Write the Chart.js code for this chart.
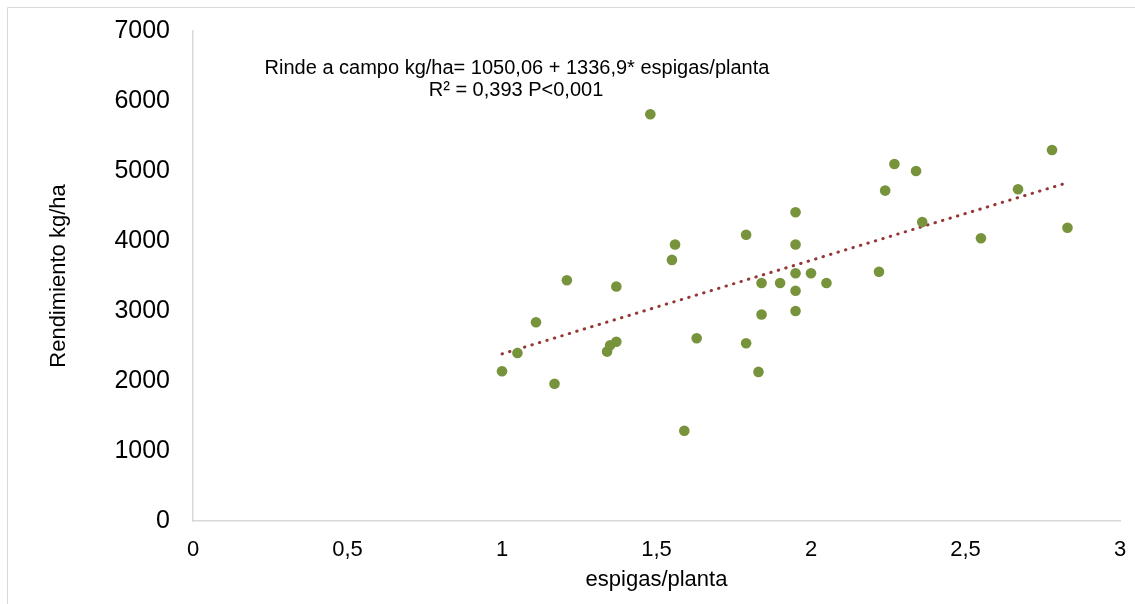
<!DOCTYPE html>
<html>
<head>
<meta charset="utf-8">
<script src="https://cdn.jsdelivr.net/npm/chart.js@4/dist/chart.umd.min.js"></script>
<style>
  html, body { margin: 0; padding: 0; background: #fff; }
  #wrap { width: 1135px; height: 604px; position: relative; }
</style>
</head>
<body>
<div id="wrap"><canvas id="chart" width="1135" height="604"></canvas></div>
<script>
// --- data ---
const espigas = [1.00, 1.05, 1.11, 1.17, 1.21, 1.34, 1.35, 1.37, 1.37, 1.48,
                 1.55, 1.56, 1.59, 1.63, 1.79, 1.79, 1.83, 1.84, 1.84, 1.90,
                 1.95, 1.95, 1.95, 1.95, 1.95, 2.00, 2.05, 2.22, 2.24, 2.27,
                 2.34, 2.36, 2.55, 2.67, 2.78, 2.83];
const rendimiento = [2140, 2400, 2840, 1960, 3440, 2420, 2510, 2560, 3350, 5810,
                     3730, 3950, 1290, 2610, 4090, 2540, 2130, 3400, 2950, 3400,
                     4410, 3950, 3540, 3290, 3000, 3540, 3400, 3560, 4720, 5100,
                     5000, 4270, 4040, 4740, 5300, 4190];
// regression from the annotation
const intercept = 1050.06;
const slope = 1336.9;
const xTicks = [0, 0.5, 1, 1.5, 2, 2.5, 3];
const yTicks = [0, 1000, 2000, 3000, 4000, 5000, 6000, 7000];
const annotation = [
    'Rinde a campo kg/ha= 1050,06 + 1336,9* espigas/planta',
    'R² = 0,393 P<0,001'
];

const points = espigas.map((x, i) => ({ x: x, y: rendimiento[i] }));
const xMin = Math.min(...espigas);
const xMax = Math.max(...espigas);
const trend = [xMin, xMax].map(x => ({ x: x, y: intercept + slope * x }));

const FONT = "'Liberation Sans', Arial, sans-serif";

// light frame on the left and top, plus the equation text
const framePlugin = {
    id: 'frame',
    beforeDraw(chart) {
        const ctx = chart.ctx;
        ctx.save();
        ctx.strokeStyle = '#d9d9d9';
        ctx.lineWidth = 1;
        ctx.beginPath();
        ctx.moveTo(7.5, 604);
        ctx.lineTo(7.5, 7.5);
        ctx.lineTo(1135, 7.5);
        ctx.stroke();
        ctx.restore();
    },
    afterDraw(chart) {
        const ctx = chart.ctx;
        ctx.save();
        ctx.fillStyle = '#000';
        ctx.font = `20px ${FONT}`;
        ctx.textAlign = 'center';
        ctx.textBaseline = 'middle';
        ctx.fillText(annotation[0], 517, 68);
        ctx.fillText(annotation[1], 516, 90);
        ctx.restore();
    }
};

new Chart(document.getElementById('chart'), {
    type: 'scatter',
    data: {
        datasets: [{
            label: 'Rendimiento',
            data: points,
            backgroundColor: '#77933c',
            borderColor: '#77933c',
            borderWidth: 0,
            pointRadius: 5.3,
            order: 1
        }, {
            type: 'line',
            label: 'Tendencia',
            data: trend,
            borderColor: '#953735',
            borderWidth: 3,
            borderDash: [0.5, 7.3],
            borderCapStyle: 'round',
            pointRadius: 0,
            fill: false,
            order: 2
        }]
    },
    options: {
        responsive: false,
        animation: false,
        layout: { padding: { left: 0, top: 31, right: 15, bottom: 0 } },
        plugins: {
            legend: { display: false },
            tooltip: { enabled: false }
        },
        scales: {
            x: {
                type: 'linear',
                min: 0,
                max: 3,
                afterBuildTicks: s => { s.ticks = xTicks.map(v => ({ value: v })); },
                afterFit: s => { s.height = 83; s.paddingLeft = 0; s.paddingRight = 0; },
                grid: { display: false, drawTicks: false },
                border: { display: true, color: '#d9d9d9', width: 1.5 },
                ticks: {
                    color: '#000',
                    padding: 16,
                    font: { family: FONT, size: 22 },
                    callback: v => String(v).replace('.', ',')
                },
                title: {
                    display: true,
                    text: 'espigas/planta',
                    color: '#000',
                    font: { family: FONT, size: 22 },
                    padding: { top: 0, bottom: 11 }
                }
            },
            y: {
                type: 'linear',
                min: 0,
                max: 7000,
                afterBuildTicks: s => { s.ticks = yTicks.map(v => ({ value: v })); },
                afterFit: s => { s.width = 193; s.paddingTop = 0; s.paddingBottom = 0; },
                grid: { display: false, drawTicks: false },
                border: { display: true, color: '#d9d9d9', width: 1.5 },
                ticks: {
                    color: '#000',
                    padding: 23,
                    font: { family: FONT, size: 25 },
                    callback: v => String(v)
                },
                title: {
                    display: true,
                    text: 'Rendimiento kg/ha',
                    color: '#000',
                    font: { family: FONT, size: 22 },
                    padding: { top: 46, bottom: 0 }
                }
            }
        }
    },
    plugins: [framePlugin]
});
</script>
</body>
</html>
